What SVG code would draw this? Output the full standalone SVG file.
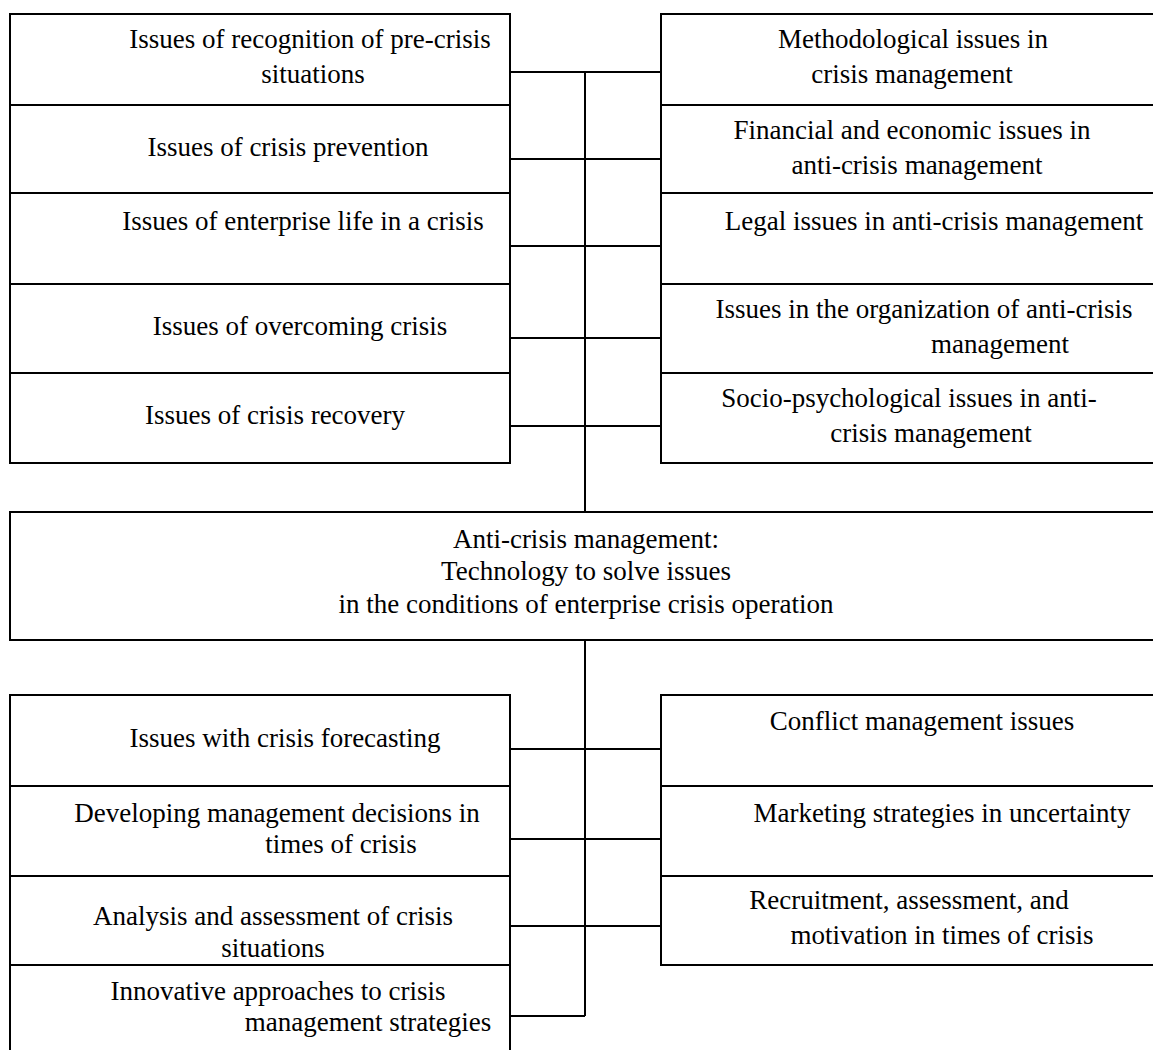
<svg xmlns="http://www.w3.org/2000/svg" width="1153" height="1050" viewBox="0 0 1153 1050">
<rect width="1153" height="1050" fill="#fff"/>
<g id="connectors" stroke="#000" stroke-width="2">
<line x1="510" y1="72" x2="661" y2="72"/>
<line x1="510" y1="159" x2="661" y2="159"/>
<line x1="510" y1="246" x2="661" y2="246"/>
<line x1="510" y1="338" x2="661" y2="338"/>
<line x1="510" y1="426" x2="661" y2="426"/>
<line x1="585" y1="72" x2="585" y2="512"/>
<line x1="585" y1="640" x2="585" y2="1016"/>
<line x1="510" y1="749" x2="661" y2="749"/>
<line x1="510" y1="839" x2="661" y2="839"/>
<line x1="510" y1="926" x2="661" y2="926"/>
<line x1="510" y1="1016" x2="585" y2="1016"/>
</g>
<g id="nodes" fill="#fff" stroke="#000" stroke-width="2">
<g id="n1"><rect x="10" y="14" width="500" height="91"/></g>
<g id="n2"><rect x="10" y="105" width="500" height="88"/></g>
<g id="n3"><rect x="10" y="193" width="500" height="91"/></g>
<g id="n4"><rect x="10" y="284" width="500" height="89"/></g>
<g id="n5"><rect x="10" y="373" width="500" height="90"/></g>
<g id="n6"><rect x="661" y="14" width="500" height="91"/></g>
<g id="n7"><rect x="661" y="105" width="500" height="88"/></g>
<g id="n8"><rect x="661" y="193" width="500" height="91"/></g>
<g id="n9"><rect x="661" y="284" width="500" height="89"/></g>
<g id="n10"><rect x="661" y="373" width="500" height="90"/></g>
<g id="center"><rect x="10" y="512" width="1150" height="128"/></g>
<g id="n11"><rect x="10" y="695" width="500" height="91"/></g>
<g id="n12"><rect x="10" y="786" width="500" height="90"/></g>
<g id="n13"><rect x="10" y="876" width="500" height="89"/></g>
<g id="n14"><rect x="10" y="965" width="500" height="95"/></g>
<g id="n15"><rect x="661" y="695" width="500" height="91"/></g>
<g id="n16"><rect x="661" y="786" width="500" height="90"/></g>
<g id="n17"><rect x="661" y="876" width="500" height="89"/></g>
</g>
<g id="labels" font-family="Liberation Serif" font-size="27" fill="#000" text-anchor="middle">
<text x="310" y="48">Issues of recognition of pre-crisis</text><text x="313" y="83">situations</text>
<text x="288" y="156">Issues of crisis prevention</text>
<text x="303" y="230">Issues of enterprise life in a crisis</text>
<text x="300" y="335">Issues of overcoming crisis</text>
<text x="275" y="424">Issues of crisis recovery</text>
<text x="913" y="48">Methodological issues in</text><text x="912" y="83">crisis management</text>
<text x="912" y="139">Financial and economic issues in</text><text x="917" y="174">anti-crisis management</text>
<text x="934" y="230">Legal issues in anti-crisis management</text>
<text x="924" y="318">Issues in the organization of anti-crisis</text><text x="1000" y="353">management</text>
<text x="909" y="407">Socio-psychological issues in anti-</text><text x="931" y="442">crisis management</text>
<text x="586" y="548">Anti-crisis management:</text><text x="586" y="580">Technology to solve issues</text><text x="586" y="613">in the conditions of enterprise crisis operation</text>
<text x="285" y="747">Issues with crisis forecasting</text>
<text x="277" y="822">Developing management decisions in</text><text x="341" y="853">times of crisis</text>
<text x="273" y="925">Analysis and assessment of crisis</text><text x="273" y="957">situations</text>
<text x="278" y="1000">Innovative approaches to crisis</text><text x="368" y="1031">management strategies</text>
<text x="922" y="730">Conflict management issues</text>
<text x="942" y="822">Marketing strategies in uncertainty</text>
<text x="909" y="909">Recruitment, assessment, and</text><text x="942" y="944">motivation in times of crisis</text>
</g>
</svg>
